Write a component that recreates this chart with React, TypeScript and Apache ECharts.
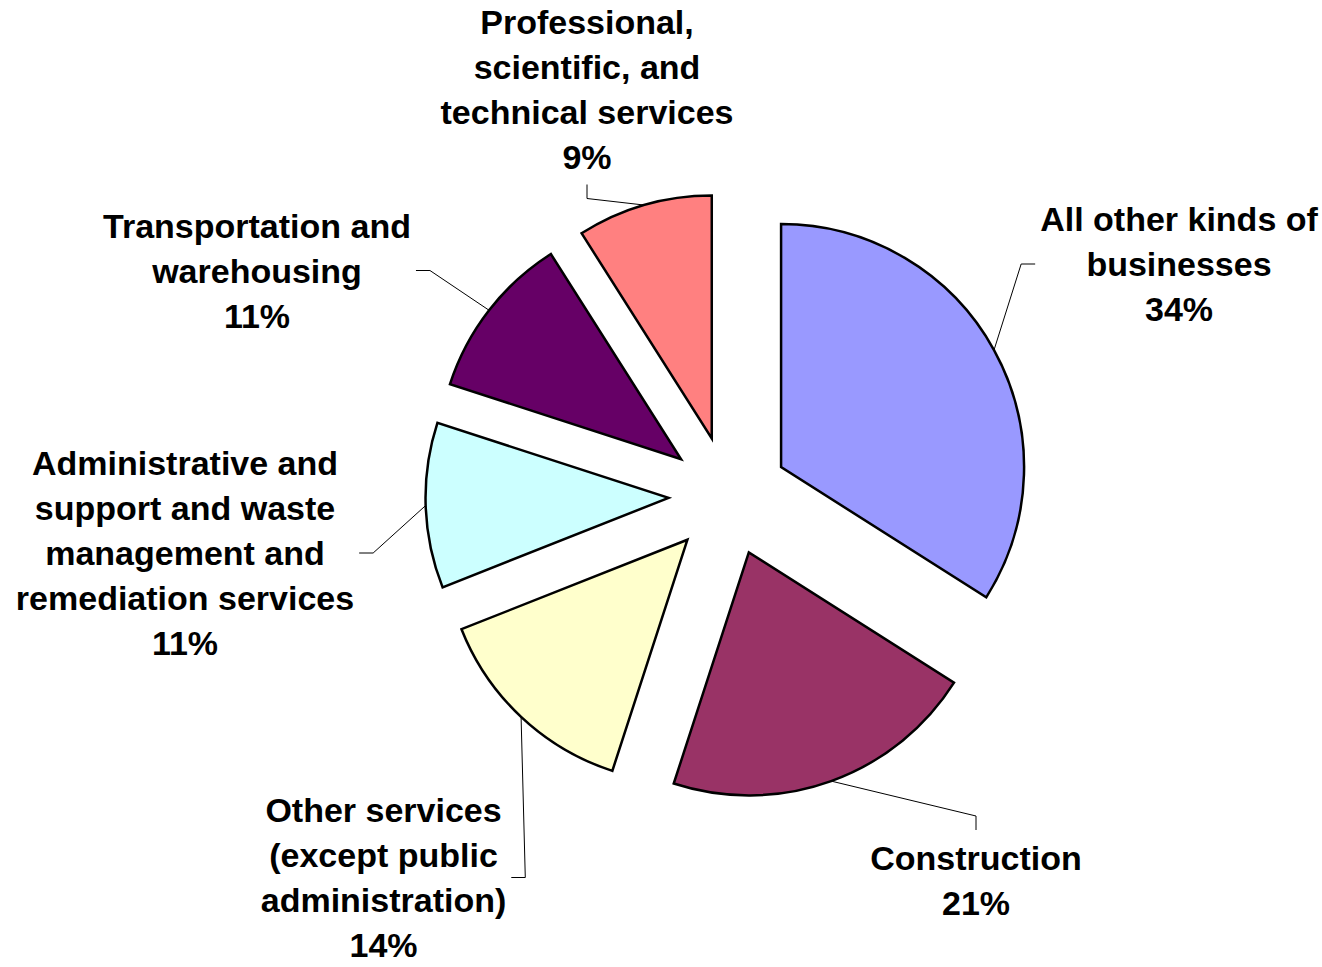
import React, { useEffect, useRef } from 'react';
import * as echarts from 'echarts';

// ---- data ----
const categories: string[] = [
  'All other kinds of\nbusinesses',
  'Construction',
  'Other services\n(except public\nadministration)',
  'Administrative and\nsupport and waste\nmanagement and\nremediation services',
  'Transportation and\nwarehousing',
  'Professional,\nscientific, and\ntechnical services',
];
const shares: number[] = [34, 21, 14, 11, 11, 9];
const colors: string[] = ['#9999FF', '#993366', '#FFFFCC', '#CCFFFF', '#660066', '#FF8080'];

// ---- layout ----
const CENTER: [number, number] = [728.5, 496];
const RADIUS = 243;
const EXPLODE = 60;
const GAP = 5;
const LEN2 = 14;
const labelAnchors: [number, number][] = [
  [1179, 264],
  [976, 880],
  [383.5, 877.5],
  [185, 553],
  [257, 270.5],
  [587, 89.5],
];

export default function App() {
  const ref = useRef<HTMLDivElement>(null);

  useEffect(() => {
    if (!ref.current) return;
    const chart = echarts.init(ref.current, null, { renderer: 'svg' });
    const total = shares.reduce((a, b) => a + b, 0);

    chart.setOption({
      animation: false,
      backgroundColor: '#ffffff',
      series: [
        {
          type: 'pie',
          center: CENTER,
          radius: RADIUS,
          startAngle: 90,
          clockwise: true,
          selectedMode: 'multiple',
          selectedOffset: EXPLODE,
          avoidLabelOverlap: false,
          emphasis: { disabled: true },
          silent: true,
          itemStyle: { borderColor: '#000000', borderWidth: 2.5, borderJoin: 'miter' },
          select: { itemStyle: { borderColor: '#000000', borderWidth: 2.5 } },
          label: { show: false },
          labelLine: { show: false },
          data: categories.map((name, i) => ({
            name,
            value: shares[i],
            selected: true,
            itemStyle: { color: colors[i] },
          })),
        },
        {
          type: 'pie',
          center: CENTER,
          radius: RADIUS,
          startAngle: 90,
          clockwise: true,
          selectedMode: false,
          avoidLabelOverlap: false,
          emphasis: { disabled: true },
          silent: true,
          z: 3,
          itemStyle: { color: 'rgba(0,0,0,0)', borderWidth: 0 },
          label: {
            show: true,
            position: 'outside',
            fontFamily: '"Liberation Sans", Arial, sans-serif',
            fontWeight: 'bold',
            fontSize: 34,
            lineHeight: 45,
            color: '#000000',
            align: 'center',
            formatter: (p: any) => `${p.name}\n${Math.round(p.percent)}%`,
          },
          labelLine: {
            show: true,
            lineStyle: { color: '#000000', width: 1 },
          },
          labelLayout: (params: any) => {
            const i = params.dataIndex;
            let cum = 0;
            for (let k = 0; k < i; k++) cum += shares[k];
            const theta = (2 * Math.PI * (cum + shares[i] / 2)) / total;
            const dx = Math.sin(theta);
            const dy = -Math.cos(theta);
            const p0 = [CENTER[0] + (RADIUS + EXPLODE) * dx, CENTER[1] + (RADIUS + EXPLODE) * dy];
            const [lx, ly] = labelAnchors[i];
            const w = params.labelRect.width;
            const h = params.labelRect.height;
            let end: number[];
            let elbow: number[];
            if (Math.abs(dx) >= 0.5) {
              const sx = dx > 0 ? -1 : 1;
              end = [lx + sx * (w / 2 + GAP), ly];
              elbow = [end[0] + sx * LEN2, ly];
            } else {
              const sy = dy > 0 ? -1 : 1;
              end = [lx, ly + sy * (h / 2 + GAP)];
              elbow = [lx, end[1] + sy * LEN2];
            }
            return {
              x: lx,
              y: ly,
              align: 'center',
              verticalAlign: 'middle',
              labelLinePoints: [p0, elbow, end],
            };
          },
          data: categories.map((name, i) => ({ name, value: shares[i] })),
        },
      ],
    });

    return () => chart.dispose();
  }, []);

  return (
    <div
      ref={ref}
      style={{ position: 'fixed', left: 0, top: 0, width: 1322, height: 967, background: '#fff' }}
    />
  );
}
